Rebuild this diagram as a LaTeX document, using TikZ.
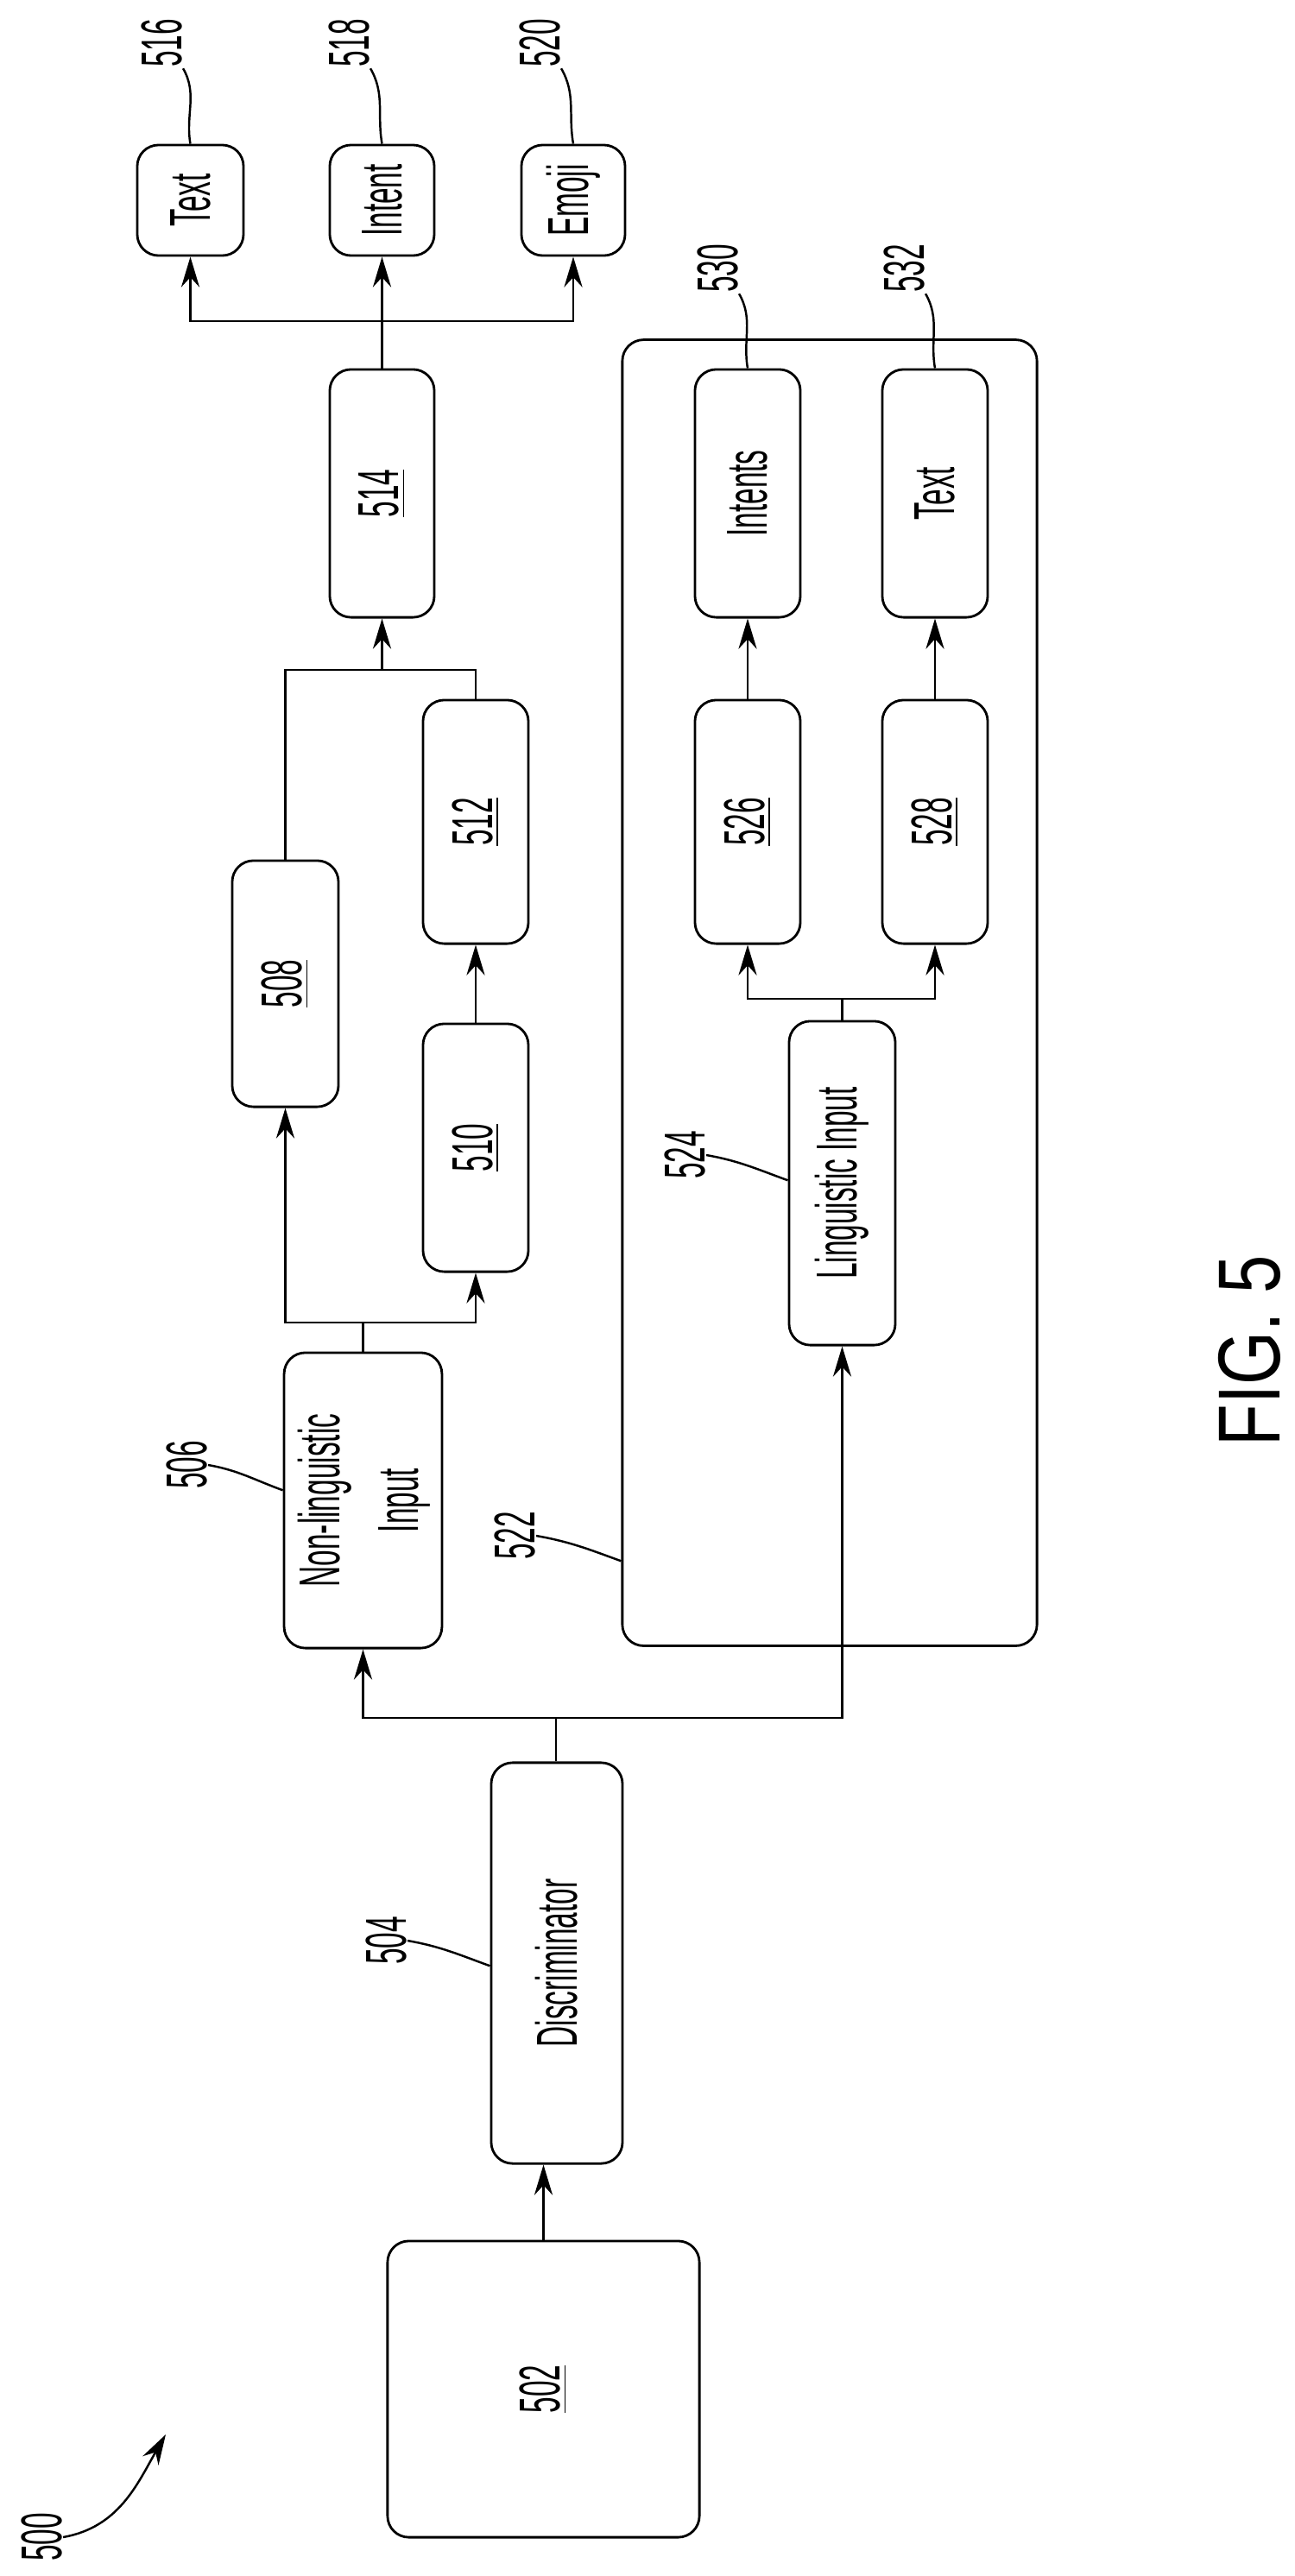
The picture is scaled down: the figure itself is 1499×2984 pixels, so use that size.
\documentclass[tikz,border=0pt]{standalone}
\usepackage{fontspec}
\setmainfont{Liberation Sans}
\usetikzlibrary{arrows.meta,positioning}
\newcommand\vtxt[1]{\rotatebox{90}{\scalebox{0.5}[1]{#1}}}
\newcommand\vnum[1]{\vtxt{\underline{#1}}}
\begin{document}
\begin{tikzpicture}
			[x=0.01cm,y=-0.01cm,line width=0.8pt,>={Stealth[length=10pt,width=6pt]},
			blk/.style={draw,rounded corners=7pt,inner sep=0pt,font=\fontsize{19}{26}\selectfont},
			numl/.style={font=\fontsize{19}{22}\selectfont,inner sep=0pt},
			lead/.style={line width=0.7pt}]
			\useasboundingbox (0,0) rectangle (1499,2984);
			
			% outputs
			\node [blk,minimum width=1.23cm,minimum height=1.28cm](t516) at (220.5,232) {\vtxt{Text}};
			\node [blk,minimum width=1.21cm,minimum height=1.28cm](t518) at (442.5,232) {\vtxt{Intent}};
			\node [blk,minimum width=1.20cm,minimum height=1.28cm](t520) at (664,232)   {\vtxt{Emoji}};
			\node [blk,minimum width=1.21cm,minimum height=2.87cm](b514) at (442.5,571.5) {\vnum{514}};
			
			% non-linguistic branch
			\node [blk,minimum width=1.23cm,minimum height=2.85cm](b508) at (330.5,1139.5) {\vnum{508}};
			\node [blk,minimum width=1.22cm,minimum height=2.87cm](b510) at (551,1329.5) {\vnum{510}};
			\node [blk,minimum width=1.22cm,minimum height=2.82cm](b512) at (551,952)    {\vnum{512}};
			\node [blk,minimum width=1.65cm,minimum height=3.42cm](b506) at (420.5,1738)
				{\rotatebox{90}{\scalebox{0.5}[1]{\begin{tabular}{@{}c@{}}Non-linguistic\\Input\end{tabular}}}};
			
			% linguistic branch
			\node [blk,minimum width=4.80cm,minimum height=15.12cm](b522) at (961,1150) {};
			\node [blk,minimum width=1.23cm,minimum height=3.75cm](b524) at (975.5,1370.5) {\vtxt{Linguistic Input}};
			\node [blk,minimum width=1.22cm,minimum height=2.82cm](b526) at (866,952)    {\vnum{526}};
			\node [blk,minimum width=1.22cm,minimum height=2.82cm](b528) at (1083,952)   {\vnum{528}};
			\node [blk,minimum width=1.22cm,minimum height=2.87cm](t530) at (866,571.5)  {\vtxt{Intents}};
			\node [blk,minimum width=1.22cm,minimum height=2.87cm](t532) at (1083,571.5) {\vtxt{Text}};
			
			% source
			\node [blk,minimum width=1.52cm,minimum height=4.64cm](b504) at (645,2274)   {\vtxt{Discriminator}};
			\node [blk,minimum width=3.61cm,minimum height=3.43cm](b502) at (629.5,2767.5) {\vnum{502}};
			
			% junctions
			\coordinate (jd) at (644,1990);
			\coordinate (jn) at (420.5,1532);
			\coordinate (jm) at (442.5,776);
			\coordinate (jo) at (442.5,372);
			\coordinate (jl) at (975.5,1157);
			
			\draw [->] (b502.north) -- (b502.north|-b504.south);
			\draw (b504.north-|jd) -- (jd);
			\draw [->] (jd) -| (b506.south);
			\draw [->] (jd) -| (b524.south);
			\draw (b506.north) -- (jn);
			\draw [->] (jn) -| (b508.south);
			\draw [->] (jn) -| (b510.south);
			\draw [->] (b510.north) -- (b512.south);
			\draw (b508.north) |- (jm);
			\draw (b512.north) |- (jm);
			\draw [->] (jm) -- (b514.south);
			\draw (b514.north) -- (jo);
			\draw [->] (jo) -| (t516.south);
			\draw [->] (jo) -- (t518.south);
			\draw [->] (jo) -| (t520.south);
			\draw (b524.north) -- (jl);
			\draw [->] (jl) -| (b526.south);
			\draw [->] (jl) -| (b528.south);
			\draw [->] (b526.north) -- (t530.south);
			\draw [->] (b528.north) -- (t532.south);
			
			% reference numerals
			\node [numl](l516) at (187,50)   {\vtxt{516}};
			\node [numl](l518) at (404,50)   {\vtxt{518}};
			\node [numl](l520) at (625,50)   {\vtxt{520}};
			\node [numl](l530) at (831,311)  {\vtxt{530}};
			\node [numl](l532) at (1047,311) {\vtxt{532}};
			\node [numl](l524) at (793,1338) {\vtxt{524}};
			\node [numl](l506) at (216,1697) {\vtxt{506}};
			\node [numl](l522) at (596,1779) {\vtxt{522}};
			\node [numl](l504) at (447,2248) {\vtxt{504}};
			\node [numl](l500) at (48,2939)  {\vtxt{500}};
			\coordinate (a500) at (192,2820);
			
			\draw [lead] (l516.south east) to[out=-60,in=100] (t516.north);
			\draw [lead] (l518.south east) to[out=-60,in=100] (t518.north);
			\draw [lead] (l520.south east) to[out=-60,in=100] (t520.north);
			\draw [lead] (l530.south east) to[out=-60,in=100] (t530.north);
			\draw [lead] (l532.south east) to[out=-60,in=100] (t532.north);
			\draw [lead] (l524.east) to[out=-10,in=160] (b524.west|-l524.south east);
			\draw [lead] (l506.east) to[out=-10,in=160] (b506.west|-l506.south east);
			\draw [lead] (l522.east) to[out=-10,in=160] (b522.west|-l522.south east);
			\draw [lead] (l504.east) to[out=-10,in=160] (b504.west|-l504.south east);
			\draw [lead,->] (l500.east) to[out=10,in=-120] (a500);
			
			\node (fig) at (1447,1565) {\rotatebox{90}{\scalebox{0.78}[1]{\fontsize{29}{32}\selectfont FIG. 5}}};
			\end{tikzpicture}
\end{document}
